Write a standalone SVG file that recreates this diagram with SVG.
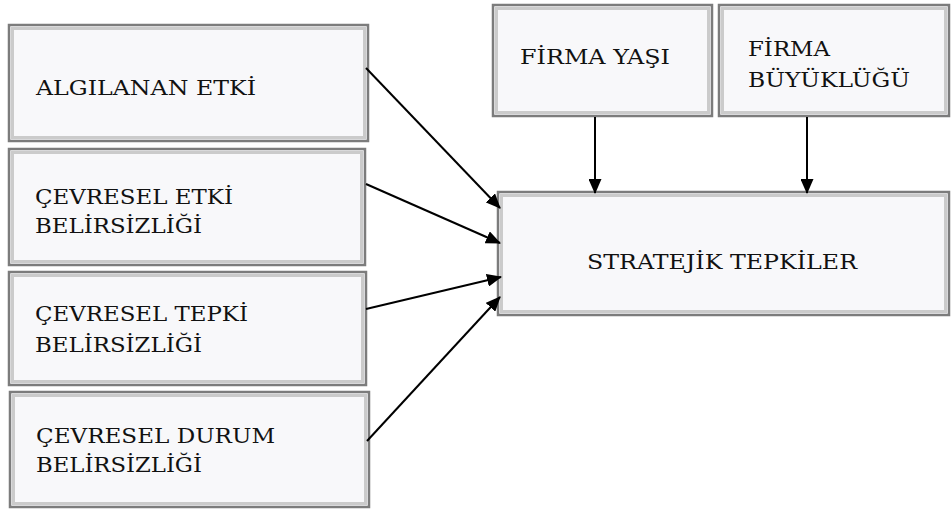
<svg xmlns="http://www.w3.org/2000/svg" width="951" height="509" viewBox="0 0 951 509">
<style>
  .o { fill: #f8f8fa; stroke: #7c7c7c; stroke-width: 2.5; }
  .i { fill: #f8f8fa; stroke: #cbcbcb; stroke-width: 3; }
  .t { font-family: "DejaVu Serif", "Liberation Serif", serif; font-size: 21px; fill: #111; }
  .c { stroke: #000; stroke-width: 2; fill: none; marker-end: url(#ah); }
</style>
<defs>
  <marker id="ah" markerUnits="userSpaceOnUse" markerWidth="15" markerHeight="13" refX="14" refY="6.5" orient="auto">
    <path d="M0,0 L15,6.5 L0,13 z" fill="#000"/>
  </marker>
</defs>
<rect width="951" height="509" fill="#fff"/>

<g id="algilanan-etki">
  <rect class="o" x="9" y="25" width="359" height="116"/>
  <rect class="i" x="12.5" y="28.5" width="352" height="109"/>
  <text class="t" x="36" y="95" textLength="220" lengthAdjust="spacingAndGlyphs">ALGILANAN ETKİ</text>
</g>
<g id="cevresel-etki">
  <rect class="o" x="9" y="149" width="356" height="116"/>
  <rect class="i" x="12.5" y="152.5" width="349" height="109"/>
  <text class="t" x="35" y="204" textLength="198" lengthAdjust="spacingAndGlyphs">ÇEVRESEL ETKİ</text>
  <text class="t" x="35" y="233" textLength="167" lengthAdjust="spacingAndGlyphs">BELİRSİZLİĞİ</text>
</g>
<g id="cevresel-tepki">
  <rect class="o" x="9" y="272" width="357" height="113"/>
  <rect class="i" x="12.5" y="275.5" width="350" height="106"/>
  <text class="t" x="35" y="321" textLength="213" lengthAdjust="spacingAndGlyphs">ÇEVRESEL TEPKİ</text>
  <text class="t" x="35" y="352" textLength="167" lengthAdjust="spacingAndGlyphs">BELİRSİZLİĞİ</text>
</g>
<g id="cevresel-durum">
  <rect class="o" x="10" y="392" width="359" height="115"/>
  <rect class="i" x="13.5" y="395.5" width="352" height="108"/>
  <text class="t" x="36" y="443" textLength="239" lengthAdjust="spacingAndGlyphs">ÇEVRESEL DURUM</text>
  <text class="t" x="36" y="472" textLength="166" lengthAdjust="spacingAndGlyphs">BELİRSİZLİĞİ</text>
</g>
<g id="firma-yasi">
  <rect class="o" x="493" y="5" width="219" height="111"/>
  <rect class="i" x="496.5" y="8.5" width="212" height="104"/>
  <text class="t" x="520" y="64" textLength="150" lengthAdjust="spacingAndGlyphs">FİRMA YAŞI</text>
</g>
<g id="firma-buyuklugu">
  <rect class="o" x="719" y="5" width="230" height="111"/>
  <rect class="i" x="722.5" y="8.5" width="223" height="104"/>
  <text class="t" x="748" y="56" textLength="82" lengthAdjust="spacingAndGlyphs">FİRMA</text>
  <text class="t" x="748" y="87" textLength="162" lengthAdjust="spacingAndGlyphs">BÜYÜKLÜĞÜ</text>
</g>
<g id="stratejik-tepkiler">
  <rect class="o" x="498" y="192" width="451" height="123"/>
  <rect class="i" x="501.5" y="195.5" width="444" height="116"/>
  <text class="t" x="587" y="269" textLength="270" lengthAdjust="spacingAndGlyphs">STRATEJİK TEPKİLER</text>
</g>

<g id="connectors">
  <line class="c" x1="366" y1="68" x2="500" y2="208"/>
  <line class="c" x1="366" y1="184" x2="500" y2="243"/>
  <line class="c" x1="366" y1="309" x2="501" y2="277"/>
  <line class="c" x1="367" y1="441" x2="500" y2="297"/>
  <line class="c" x1="595" y1="117" x2="595" y2="193"/>
  <line class="c" x1="807" y1="117" x2="807" y2="193"/>
</g>
</svg>
